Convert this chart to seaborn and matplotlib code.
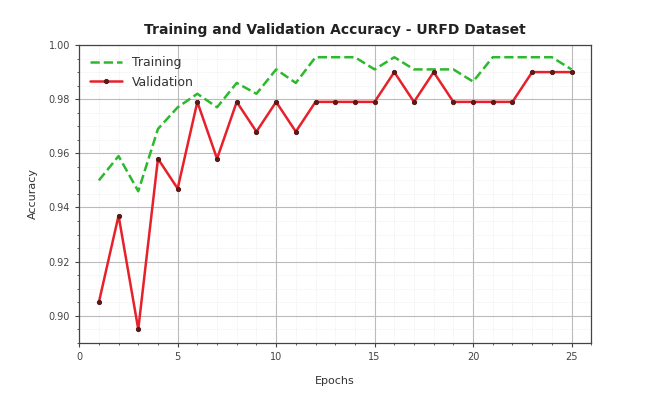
import pandas as pd
import numpy as np
import matplotlib
matplotlib.use("Agg")
import matplotlib.pyplot as plt
from matplotlib.ticker import AutoMinorLocator
import seaborn as sns

epochs = list(range(1, 26))
train_acc = [0.950, 0.959, 0.946, 0.969, 0.977, 0.982, 0.977, 0.986, 0.982, 0.991,
             0.986, 0.9955, 0.9955, 0.9955, 0.991, 0.9955, 0.991, 0.991, 0.991, 0.9865,
             0.9955, 0.9955, 0.9955, 0.9955, 0.991]
val_acc = [0.905, 0.937, 0.895, 0.958, 0.947, 0.979, 0.958, 0.979, 0.968, 0.979,
           0.968, 0.979, 0.979, 0.979, 0.979, 0.990, 0.979, 0.990, 0.979, 0.979,
           0.979, 0.979, 0.990, 0.990, 0.990]

df = pd.DataFrame({"Epoch": epochs, "Training": train_acc, "Validation": val_acc})

sns.set_style("white")
plt.rcParams['font.family'] = ['DejaVu Sans']

fig = plt.figure(figsize=(6.49, 3.95), dpi=100)
ax = fig.add_axes([0.122, 0.132, 0.789, 0.754])

sns.lineplot(data=df, x="Epoch", y="Training", ax=ax, color="#2db82d",
             linestyle="--", linewidth=1.8, label="Training")
sns.lineplot(data=df, x="Epoch", y="Validation", ax=ax, color="#e8202a",
             linewidth=1.8, marker="o", markersize=3, markerfacecolor="#5a1a1a",
             markeredgecolor="#5a1a1a", label="Validation")

ax.set_xlim(0, 26)
ax.set_ylim(0.89, 1.0)
ax.set_xticks([0, 5, 10, 15, 20, 25])
ax.set_yticks([0.90, 0.92, 0.94, 0.96, 0.98, 1.00])
ax.xaxis.set_minor_locator(AutoMinorLocator(5))
ax.yaxis.set_minor_locator(AutoMinorLocator(4))
ax.grid(which="major", color="#bbbbbb", linewidth=0.8)
ax.grid(which="minor", color="#e4e4e4", linewidth=0.5, linestyle=":")
ax.tick_params(axis="both", which="major", labelsize=7, colors="#444444", length=3, direction="out")
ax.tick_params(axis="both", which="minor", length=1.5, colors="#444444")
ax.tick_params(bottom=True, left=True, which="both")
for s in ax.spines.values():
    s.set_color("#444444")
    s.set_linewidth(0.9)

ax.set_title("Training and Validation Accuracy - URFD Dataset", fontsize=10,
             fontweight="bold", color="#222222", pad=8)
ax.set_xlabel("Epochs", fontsize=8, color="#333333", labelpad=10)
ax.set_ylabel("Accuracy", fontsize=8, color="#333333", labelpad=8)

leg = ax.legend(loc="upper left", fontsize=9, frameon=False, handlelength=2.5)
for t in leg.get_texts():
    t.set_color("#333333")

plt.savefig("out.png", dpi=100)
